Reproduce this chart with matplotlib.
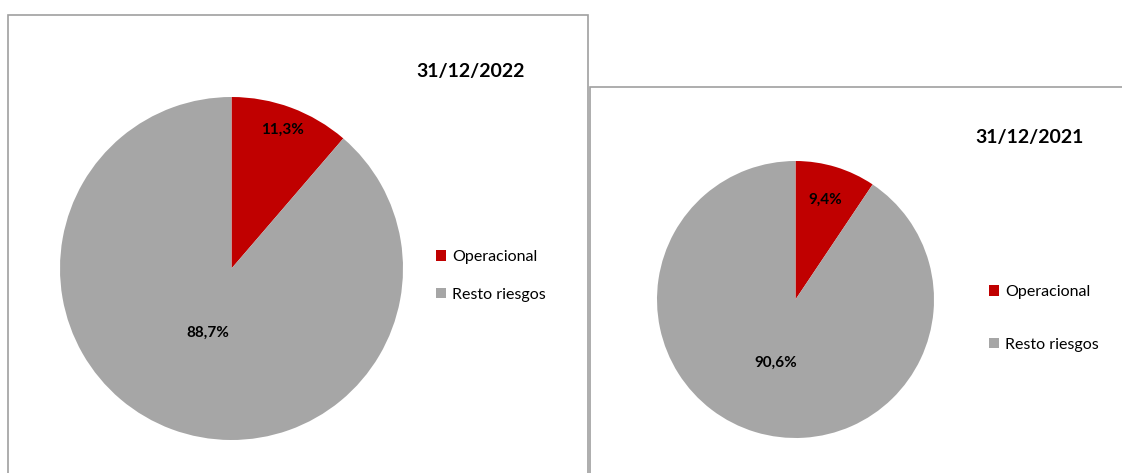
import numpy as np
import matplotlib
matplotlib.use("Agg")
import matplotlib.pyplot as plt
from matplotlib.patches import Rectangle, Patch

plt.rcParams["font.family"] = ["Lato", "DejaVu Sans"]

# Datos
categorias = ["Operacional", "Resto riesgos"]
fechas = ["31/12/2022", "31/12/2021"]
valores_2022 = [11.3, 88.7]
valores_2021 = [9.4, 90.6]
colores = ["#C00000", "#A6A6A6"]

W, H = 1122, 473
fig = plt.figure(figsize=(W / 100, H / 100), dpi=100)

def fx(px):
    return px / W

def fy(py):
    return 1 - py / H

# Marcos de los dos graficos
fig.patches.append(Rectangle((fx(8), fy(480)), fx(580), fy(15) - fy(480),
                             transform=fig.transFigure, fill=False,
                             edgecolor="#A0A0A0", linewidth=1.2))
fig.patches.append(Rectangle((fx(590), fy(480)), fx(540), fy(87) - fy(480),
                             transform=fig.transFigure, fill=False,
                             edgecolor="#A0A0A0", linewidth=1.2))

def dibujar_pie(valores, cx, cy, r, dist_etq, titulo, tpos, lpos, espacio):
    ax = fig.add_axes([fx(cx - r), fy(cy + r), fx(2 * r), fy(cy - r) - fy(cy + r)])
    wedges, _ = ax.pie(valores, colors=colores, startangle=90, counterclock=False,
                       radius=1, wedgeprops=dict(linewidth=0))
    ax.set_xlim(-1, 1)
    ax.set_ylim(-1, 1)
    ax.set_aspect("equal")
    ax.axis("off")
    # etiquetas de porcentaje
    for w, v, d in zip(wedges, valores, dist_etq):
        ang = np.deg2rad((w.theta1 + w.theta2) / 2)
        ax.text(d * np.cos(ang), d * np.sin(ang), f"{v:.1f}%".replace(".", ","),
                ha="center", va="center", fontsize=11, fontweight="bold", color="black")
    fig.text(fx(tpos[0]), fy(tpos[1]), titulo, ha="center", va="center",
             fontsize=14, fontweight="bold")
    handles = [Patch(facecolor=c, edgecolor="none") for c in colores]
    fig.legend(handles, categorias, loc="center left",
               bbox_to_anchor=(fx(lpos[0]), fy(lpos[1])), frameon=False,
               fontsize=11.5, handlelength=0.65, handleheight=0.65,
               handletextpad=0.35, labelspacing=espacio, borderaxespad=0,
               borderpad=0)

dibujar_pie(valores_2022, 231.5, 268.5, 171.5, [0.86, 0.4], fechas[0],
            (471, 72), (436, 276), 1.45)
dibujar_pie(valores_2021, 795.5, 299.5, 138.5, [0.75, 0.48], fechas[1],
            (1030, 137), (989, 318.5), 2.4)

fig.savefig("out.png", dpi=100)
